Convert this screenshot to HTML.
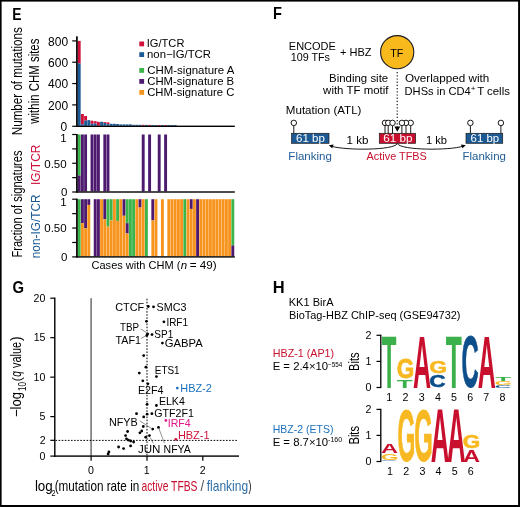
<!DOCTYPE html>
<html><head><meta charset="utf-8"><style>
html,body{margin:0;padding:0;background:#fff;}
svg{display:block;will-change:transform;font-family:"Liberation Sans", sans-serif;}
</style></head><body>
<svg width="520" height="507" viewBox="0 0 520 507">
<rect x="0" y="0" width="520" height="507" fill="#fff"/>
<rect x="0.00" y="0.00" width="520.00" height="1.60" fill="#000"/>
<rect x="0.00" y="0.00" width="1.60" height="507.00" fill="#000"/>
<rect x="518.10" y="0.00" width="1.90" height="507.00" fill="#000"/>
<rect x="0.00" y="505.00" width="520.00" height="2.00" fill="#000"/>
<text x="12.37" y="19.75" font-size="15.7" fill="#000" font-weight="bold" textLength="9.27" lengthAdjust="spacingAndGlyphs">E</text>
<text x="-135.26" y="21.60" transform="rotate(-90)" font-size="14.6" fill="#000" textLength="108.08" lengthAdjust="spacingAndGlyphs">Number of mutations</text>
<text x="-123.68" y="39.00" transform="rotate(-90)" font-size="14.6" fill="#000" textLength="85.10" lengthAdjust="spacingAndGlyphs">within CHM sites</text>
<text x="-257.61" y="21.60" transform="rotate(-90)" font-size="14.6" fill="#000" textLength="107.22" lengthAdjust="spacingAndGlyphs">Fraction of signatures</text>
<text x="-185.00" y="40.00" transform="rotate(-90)" font-size="12.6" fill="#d0103a" textLength="40.35" lengthAdjust="spacingAndGlyphs">IG/TCR</text>
<text x="-258.29" y="40.20" transform="rotate(-90)" font-size="12.6" fill="#1a5a96" textLength="63.94" lengthAdjust="spacingAndGlyphs">non-IG/TCR</text>
<rect x="77.75" y="40.90" width="2.90" height="22.50" fill="#d0103a"/>
<rect x="77.75" y="63.40" width="2.90" height="62.40" fill="#1a5a96"/>
<rect x="80.95" y="114.00" width="2.90" height="10.30" fill="#d0103a"/>
<rect x="80.95" y="124.30" width="2.90" height="1.50" fill="#1a5a96"/>
<rect x="84.15" y="116.00" width="2.90" height="4.70" fill="#d0103a"/>
<rect x="84.15" y="120.70" width="2.90" height="5.10" fill="#1a5a96"/>
<rect x="87.35" y="120.10" width="2.90" height="5.70" fill="#1a5a96"/>
<rect x="90.55" y="120.70" width="2.90" height="3.10" fill="#d0103a"/>
<rect x="90.55" y="123.80" width="2.90" height="2.00" fill="#1a5a96"/>
<rect x="93.75" y="121.20" width="2.90" height="2.30" fill="#d0103a"/>
<rect x="93.75" y="123.50" width="2.90" height="2.30" fill="#1a5a96"/>
<rect x="96.95" y="121.80" width="2.90" height="4.00" fill="#d0103a"/>
<rect x="100.15" y="121.80" width="2.90" height="4.00" fill="#1a5a96"/>
<rect x="103.35" y="122.10" width="2.90" height="0.90" fill="#d0103a"/>
<rect x="103.35" y="123.00" width="2.90" height="2.80" fill="#1a5a96"/>
<rect x="106.55" y="122.40" width="2.90" height="1.70" fill="#d0103a"/>
<rect x="106.55" y="124.10" width="2.90" height="1.70" fill="#1a5a96"/>
<rect x="109.75" y="123.80" width="2.90" height="2.00" fill="#1a5a96"/>
<rect x="112.95" y="123.80" width="2.90" height="2.00" fill="#1a5a96"/>
<rect x="116.15" y="124.00" width="2.90" height="1.80" fill="#1a5a96"/>
<rect x="119.35" y="124.40" width="2.90" height="1.40" fill="#1a5a96"/>
<rect x="122.55" y="124.40" width="2.90" height="1.40" fill="#1a5a96"/>
<rect x="125.75" y="124.40" width="2.90" height="1.40" fill="#1a5a96"/>
<rect x="128.95" y="124.40" width="2.90" height="1.40" fill="#1a5a96"/>
<rect x="132.15" y="124.80" width="2.90" height="1.00" fill="#1a5a96"/>
<rect x="135.35" y="124.80" width="2.90" height="1.00" fill="#1a5a96"/>
<rect x="138.55" y="124.80" width="2.90" height="1.00" fill="#1a5a96"/>
<rect x="141.75" y="124.80" width="2.90" height="1.00" fill="#d0103a"/>
<rect x="144.95" y="124.90" width="2.90" height="0.90" fill="#1a5a96"/>
<rect x="148.15" y="124.90" width="2.90" height="0.90" fill="#d0103a"/>
<rect x="151.35" y="125.00" width="2.90" height="0.80" fill="#1a5a96"/>
<rect x="154.55" y="125.00" width="2.90" height="0.80" fill="#1a5a96"/>
<rect x="157.75" y="125.00" width="2.90" height="0.80" fill="#d0103a"/>
<rect x="160.95" y="125.00" width="2.90" height="0.80" fill="#1a5a96"/>
<rect x="164.15" y="125.00" width="2.90" height="0.80" fill="#d0103a"/>
<rect x="167.35" y="125.00" width="2.90" height="0.80" fill="#1a5a96"/>
<rect x="170.55" y="125.00" width="2.90" height="0.80" fill="#1a5a96"/>
<rect x="173.75" y="125.00" width="2.90" height="0.80" fill="#1a5a96"/>
<rect x="77.75" y="134.50" width="2.90" height="40.97" fill="#3bb54a"/>
<rect x="77.75" y="175.47" width="2.90" height="15.93" fill="#4d1a6f"/>
<rect x="80.95" y="134.50" width="2.90" height="56.90" fill="#4d1a6f"/>
<rect x="84.15" y="134.50" width="2.90" height="56.90" fill="#4d1a6f"/>
<rect x="90.55" y="134.50" width="2.90" height="56.90" fill="#4d1a6f"/>
<rect x="93.75" y="134.50" width="2.90" height="56.90" fill="#4d1a6f"/>
<rect x="96.95" y="134.50" width="2.90" height="56.90" fill="#4d1a6f"/>
<rect x="103.35" y="134.50" width="2.90" height="56.90" fill="#4d1a6f"/>
<rect x="106.55" y="134.50" width="2.90" height="56.90" fill="#4d1a6f"/>
<rect x="141.75" y="134.50" width="2.90" height="56.90" fill="#4d1a6f"/>
<rect x="148.15" y="134.50" width="2.90" height="56.90" fill="#4d1a6f"/>
<rect x="157.75" y="134.50" width="2.90" height="56.90" fill="#4d1a6f"/>
<rect x="164.15" y="134.50" width="2.90" height="56.90" fill="#4d1a6f"/>
<rect x="77.75" y="199.20" width="2.90" height="57.11" fill="#3bb54a"/>
<rect x="80.95" y="199.20" width="2.90" height="23.99" fill="#4d1a6f"/>
<rect x="80.95" y="223.18" width="2.90" height="33.13" fill="#f7941d"/>
<rect x="84.15" y="199.20" width="2.90" height="29.13" fill="#4d1a6f"/>
<rect x="84.15" y="228.32" width="2.90" height="27.99" fill="#f7941d"/>
<rect x="87.35" y="199.20" width="2.90" height="5.72" fill="#4d1a6f"/>
<rect x="87.35" y="204.91" width="2.90" height="51.40" fill="#f7941d"/>
<rect x="93.75" y="199.20" width="2.90" height="57.11" fill="#4d1a6f"/>
<rect x="96.95" y="199.20" width="2.90" height="57.11" fill="#4d1a6f"/>
<rect x="100.15" y="199.20" width="2.90" height="57.11" fill="#f7941d"/>
<rect x="103.35" y="199.20" width="2.90" height="20.00" fill="#4d1a6f"/>
<rect x="103.35" y="219.19" width="2.90" height="37.13" fill="#f7941d"/>
<rect x="106.55" y="199.20" width="2.90" height="27.42" fill="#3bb54a"/>
<rect x="106.55" y="226.61" width="2.90" height="29.70" fill="#f7941d"/>
<rect x="109.75" y="199.20" width="2.90" height="21.14" fill="#3bb54a"/>
<rect x="109.75" y="220.33" width="2.90" height="35.98" fill="#f7941d"/>
<rect x="112.95" y="199.20" width="2.90" height="57.11" fill="#f7941d"/>
<rect x="116.15" y="199.20" width="2.90" height="21.71" fill="#3bb54a"/>
<rect x="116.15" y="220.90" width="2.90" height="35.41" fill="#f7941d"/>
<rect x="119.35" y="199.20" width="2.90" height="57.11" fill="#f7941d"/>
<rect x="122.55" y="199.20" width="2.90" height="16.57" fill="#4d1a6f"/>
<rect x="122.55" y="215.76" width="2.90" height="40.55" fill="#f7941d"/>
<rect x="125.75" y="199.20" width="2.90" height="23.99" fill="#3bb54a"/>
<rect x="125.75" y="223.18" width="2.90" height="10.29" fill="#4d1a6f"/>
<rect x="125.75" y="233.46" width="2.90" height="22.85" fill="#f7941d"/>
<rect x="128.95" y="199.20" width="2.90" height="57.11" fill="#3bb54a"/>
<rect x="132.15" y="199.20" width="2.90" height="57.11" fill="#3bb54a"/>
<rect x="135.35" y="199.20" width="2.90" height="57.11" fill="#f7941d"/>
<rect x="138.55" y="199.20" width="2.90" height="8.29" fill="#4d1a6f"/>
<rect x="138.55" y="207.48" width="2.90" height="48.83" fill="#f7941d"/>
<rect x="141.75" y="199.20" width="2.90" height="57.11" fill="#f7941d"/>
<rect x="144.95" y="199.20" width="2.90" height="57.11" fill="#3bb54a"/>
<rect x="151.35" y="199.20" width="2.90" height="21.14" fill="#4d1a6f"/>
<rect x="151.35" y="220.33" width="2.90" height="35.98" fill="#f7941d"/>
<rect x="154.55" y="199.20" width="2.90" height="57.11" fill="#f7941d"/>
<rect x="160.95" y="199.20" width="2.90" height="57.11" fill="#f7941d"/>
<rect x="183.35" y="199.20" width="2.90" height="57.11" fill="#3bb54a"/>
<rect x="189.75" y="199.20" width="2.90" height="9.72" fill="#4d1a6f"/>
<rect x="189.75" y="208.91" width="2.90" height="47.40" fill="#f7941d"/>
<rect x="196.15" y="199.20" width="2.90" height="57.11" fill="#4d1a6f"/>
<rect x="231.35" y="199.20" width="2.90" height="46.26" fill="#3bb54a"/>
<rect x="231.35" y="245.45" width="2.90" height="10.86" fill="#4d1a6f"/>
<rect x="167.35" y="199.20" width="2.90" height="57.11" fill="#f7941d"/>
<rect x="170.55" y="199.20" width="2.90" height="57.11" fill="#f7941d"/>
<rect x="173.75" y="199.20" width="2.90" height="57.11" fill="#f7941d"/>
<rect x="176.95" y="199.20" width="2.90" height="57.11" fill="#f7941d"/>
<rect x="180.15" y="199.20" width="2.90" height="57.11" fill="#f7941d"/>
<rect x="186.55" y="199.20" width="2.90" height="57.11" fill="#f7941d"/>
<rect x="192.95" y="199.20" width="2.90" height="57.11" fill="#f7941d"/>
<rect x="199.35" y="199.20" width="2.90" height="57.11" fill="#f7941d"/>
<rect x="202.55" y="199.20" width="2.90" height="57.11" fill="#f7941d"/>
<rect x="205.75" y="199.20" width="2.90" height="57.11" fill="#f7941d"/>
<rect x="208.95" y="199.20" width="2.90" height="57.11" fill="#f7941d"/>
<rect x="212.15" y="199.20" width="2.90" height="57.11" fill="#f7941d"/>
<rect x="215.35" y="199.20" width="2.90" height="57.11" fill="#f7941d"/>
<rect x="218.55" y="199.20" width="2.90" height="57.11" fill="#f7941d"/>
<rect x="221.75" y="199.20" width="2.90" height="57.11" fill="#f7941d"/>
<rect x="224.95" y="199.20" width="2.90" height="57.11" fill="#f7941d"/>
<rect x="228.15" y="199.20" width="2.90" height="57.11" fill="#f7941d"/>
<rect x="76.07" y="36.30" width="1.70" height="90.60" fill="#000"/>
<rect x="76.20" y="125.60" width="158.60" height="1.40" fill="#000"/>
<rect x="72.20" y="40.30" width="4.30" height="1.20" fill="#000"/>
<rect x="72.20" y="61.60" width="4.30" height="1.20" fill="#000"/>
<rect x="72.20" y="82.95" width="4.30" height="1.20" fill="#000"/>
<rect x="72.20" y="104.30" width="4.30" height="1.20" fill="#000"/>
<rect x="72.20" y="125.70" width="4.30" height="1.20" fill="#000"/>
<rect x="76.07" y="134.00" width="1.70" height="58.70" fill="#000"/>
<rect x="76.20" y="191.30" width="158.60" height="1.40" fill="#000"/>
<rect x="72.20" y="133.90" width="4.30" height="1.20" fill="#000"/>
<rect x="72.20" y="148.28" width="4.30" height="1.20" fill="#000"/>
<rect x="72.20" y="162.65" width="4.30" height="1.20" fill="#000"/>
<rect x="72.20" y="177.03" width="4.30" height="1.20" fill="#000"/>
<rect x="72.20" y="191.40" width="4.30" height="1.20" fill="#000"/>
<rect x="76.07" y="198.60" width="1.70" height="59.00" fill="#000"/>
<rect x="76.20" y="256.20" width="158.60" height="1.40" fill="#000"/>
<rect x="72.20" y="198.60" width="4.30" height="1.20" fill="#000"/>
<rect x="72.20" y="213.03" width="4.30" height="1.20" fill="#000"/>
<rect x="72.20" y="227.45" width="4.30" height="1.20" fill="#000"/>
<rect x="72.20" y="241.88" width="4.30" height="1.20" fill="#000"/>
<rect x="72.20" y="256.30" width="4.30" height="1.20" fill="#000"/>
<text x="48.05" y="45.60" font-size="12" fill="#000" textLength="20.02" lengthAdjust="spacingAndGlyphs">800</text>
<text x="48.05" y="66.90" font-size="12" fill="#000" textLength="20.02" lengthAdjust="spacingAndGlyphs">600</text>
<text x="48.05" y="88.25" font-size="12" fill="#000" textLength="20.02" lengthAdjust="spacingAndGlyphs">400</text>
<text x="48.05" y="109.60" font-size="12" fill="#000" textLength="20.02" lengthAdjust="spacingAndGlyphs">200</text>
<text x="60.39" y="130.70" font-size="12" fill="#000" textLength="6.67" lengthAdjust="spacingAndGlyphs">0</text>
<text x="60.27" y="141.90" font-size="11.5" fill="#000" textLength="6.40" lengthAdjust="spacingAndGlyphs">1</text>
<text x="44.27" y="167.50" font-size="11.5" fill="#000" textLength="22.38" lengthAdjust="spacingAndGlyphs">0.50</text>
<text x="61.05" y="196.20" font-size="11.5" fill="#000" textLength="6.40" lengthAdjust="spacingAndGlyphs">0</text>
<text x="60.27" y="206.20" font-size="11.5" fill="#000" textLength="6.40" lengthAdjust="spacingAndGlyphs">1</text>
<text x="44.27" y="232.20" font-size="11.5" fill="#000" textLength="22.38" lengthAdjust="spacingAndGlyphs">0.50</text>
<text x="61.05" y="261.10" font-size="11.5" fill="#000" textLength="6.40" lengthAdjust="spacingAndGlyphs">0</text>
<rect x="139.30" y="41.50" width="4.80" height="4.80" fill="#d0103a"/>
<text x="146.77" y="47.00" font-size="10.4" fill="#000" textLength="37.64" lengthAdjust="spacingAndGlyphs">IG/TCR</text>
<rect x="139.30" y="52.20" width="4.80" height="4.80" fill="#1a5a96"/>
<text x="147.05" y="57.70" font-size="10.4" fill="#000" textLength="63.88" lengthAdjust="spacingAndGlyphs">non−IG/TCR</text>
<rect x="139.30" y="68.00" width="4.80" height="4.80" fill="#3bb54a"/>
<text x="147.22" y="73.50" font-size="10.4" fill="#000" textLength="87.20" lengthAdjust="spacingAndGlyphs">CHM-signature A</text>
<rect x="139.30" y="79.00" width="4.80" height="4.80" fill="#4d1a6f"/>
<text x="147.22" y="84.50" font-size="10.4" fill="#000" textLength="86.97" lengthAdjust="spacingAndGlyphs">CHM-signature B</text>
<rect x="139.30" y="90.00" width="4.80" height="4.80" fill="#f7941d"/>
<text x="147.23" y="95.50" font-size="10.4" fill="#000" textLength="87.20" lengthAdjust="spacingAndGlyphs">CHM-signature C</text>
<text x="91.54" y="268.90" font-size="11.3" fill="#000" textLength="88.82" lengthAdjust="spacingAndGlyphs">Cases with CHM (</text>
<text x="180.71" y="268.90" font-size="11.3" fill="#000" font-style="italic" textLength="6.42" lengthAdjust="spacingAndGlyphs">n</text>
<text x="189.83" y="268.90" font-size="11.3" fill="#000" textLength="26.89" lengthAdjust="spacingAndGlyphs">= 49)</text>
<text x="272.92" y="19.05" font-size="15.7" fill="#000" font-weight="bold" textLength="8.91" lengthAdjust="spacingAndGlyphs">F</text>
<text x="288.80" y="49.90" font-size="10.8" fill="#000" textLength="47.08" lengthAdjust="spacingAndGlyphs">ENCODE</text>
<text x="290.68" y="61.00" font-size="10.8" fill="#000" textLength="39.30" lengthAdjust="spacingAndGlyphs">109 TFs</text>
<text x="339.96" y="55.70" font-size="10.8" fill="#000" textLength="31.58" lengthAdjust="spacingAndGlyphs">+ HBZ</text>
<circle cx="397.2" cy="52.2" r="16.6" fill="#f7b91b" stroke="#1c1c26" stroke-width="1.1"/>
<text x="390.26" y="57.40" font-size="10.6" fill="#000" textLength="13.17" lengthAdjust="spacingAndGlyphs">TF</text>
<line x1="397.2" y1="72" x2="397.2" y2="127" stroke="#000" stroke-width="1.1" stroke-dasharray="1.2 2"/>
<text x="329.06" y="82.00" font-size="11.2" fill="#000" textLength="59.15" lengthAdjust="spacingAndGlyphs">Binding site</text>
<text x="323.12" y="94.40" font-size="11.2" fill="#000" textLength="65.37" lengthAdjust="spacingAndGlyphs">with TF motif</text>
<text x="404.95" y="82.20" font-size="11.2" fill="#000" textLength="84.31" lengthAdjust="spacingAndGlyphs">Overlapped with</text>
<text x="404.59" y="94.90" font-size="11.2" fill="#000" textLength="66.14" lengthAdjust="spacingAndGlyphs">DHSs in CD4</text>
<text x="470.80" y="90.60" font-size="6.5" fill="#000" textLength="4.81" lengthAdjust="spacingAndGlyphs">+</text>
<text x="477.15" y="94.90" font-size="11.2" fill="#000" textLength="32.76" lengthAdjust="spacingAndGlyphs">T cells</text>
<text x="285.86" y="114.10" font-size="11.1" fill="#000" textLength="75.55" lengthAdjust="spacingAndGlyphs">Mutation (ATL)</text>
<rect x="291.60" y="133.3" width="37.40" height="10.0" fill="#1d5a94" stroke="#1a1a1a" stroke-width="0.7"/>
<rect x="379.30" y="133.3" width="36.30" height="10.0" fill="#c8102e" stroke="#1a1a1a" stroke-width="0.7"/>
<rect x="466.00" y="133.3" width="36.70" height="10.0" fill="#1d5a94" stroke="#1a1a1a" stroke-width="0.7"/>
<text x="296.12" y="141.50" font-size="10.2" fill="#fff" textLength="28.77" lengthAdjust="spacingAndGlyphs">61 bp</text>
<text x="383.31" y="141.50" font-size="10.2" fill="#fff" textLength="29.18" lengthAdjust="spacingAndGlyphs">61 bp</text>
<text x="470.62" y="141.50" font-size="10.2" fill="#fff" textLength="28.45" lengthAdjust="spacingAndGlyphs">61 bp</text>
<line x1="293.80" y1="125.65" x2="293.80" y2="133.30" stroke="#000" stroke-width="0.9"/>
<circle cx="293.80" cy="122.90" r="2.75" fill="#fff" stroke="#000" stroke-width="0.9"/>
<line x1="470.40" y1="125.65" x2="470.40" y2="133.30" stroke="#000" stroke-width="0.9"/>
<circle cx="470.40" cy="122.90" r="2.75" fill="#fff" stroke="#000" stroke-width="0.9"/>
<line x1="500.90" y1="125.65" x2="500.90" y2="133.30" stroke="#000" stroke-width="0.9"/>
<circle cx="500.90" cy="122.90" r="2.75" fill="#fff" stroke="#000" stroke-width="0.9"/>
<line x1="385.00" y1="125.65" x2="385.00" y2="133.30" stroke="#000" stroke-width="0.9"/>
<circle cx="385.00" cy="122.90" r="2.75" fill="#fff" stroke="#000" stroke-width="0.9"/>
<line x1="388.20" y1="125.65" x2="388.20" y2="133.30" stroke="#000" stroke-width="0.9"/>
<circle cx="388.20" cy="122.90" r="2.75" fill="#fff" stroke="#000" stroke-width="0.9"/>
<line x1="392.50" y1="125.65" x2="392.50" y2="133.30" stroke="#000" stroke-width="0.9"/>
<circle cx="392.50" cy="122.90" r="2.75" fill="#fff" stroke="#000" stroke-width="0.9"/>
<line x1="410.70" y1="125.65" x2="410.70" y2="133.30" stroke="#000" stroke-width="0.9"/>
<circle cx="410.70" cy="122.90" r="2.75" fill="#fff" stroke="#000" stroke-width="0.9"/>
<line x1="406.00" y1="125.65" x2="406.00" y2="133.30" stroke="#000" stroke-width="0.9"/>
<circle cx="406.00" cy="122.90" r="2.75" fill="#fff" stroke="#000" stroke-width="0.9"/>
<line x1="401.90" y1="125.65" x2="401.90" y2="133.30" stroke="#000" stroke-width="0.9"/>
<circle cx="401.90" cy="122.90" r="2.75" fill="#fff" stroke="#000" stroke-width="0.9"/>
<path d="M394.4,126.6 L400.2,126.6 L397.3,131.8 Z" fill="#000"/>
<path d="M397.3,143.6 C394,150.5 345,150.5 331.5,146.2" fill="none" stroke="#000" stroke-width="0.9"/>
<path d="M328.8,145.2 L333.6,144.6 L332.2,148.3 Z" fill="#000"/>
<path d="M397.3,143.6 C401,150.5 450,150.5 463,146.2" fill="none" stroke="#000" stroke-width="0.9"/>
<path d="M465.8,145.2 L461.0,144.6 L462.4,148.3 Z" fill="#000"/>
<text x="346.62" y="143.50" font-size="11.4" fill="#000" textLength="21.87" lengthAdjust="spacingAndGlyphs">1 kb</text>
<text x="425.95" y="143.50" font-size="11.4" fill="#000" textLength="21.12" lengthAdjust="spacingAndGlyphs">1 kb</text>
<text x="288.36" y="160.30" font-size="11.0" fill="#1d5a94" textLength="43.49" lengthAdjust="spacingAndGlyphs">Flanking</text>
<text x="366.58" y="160.30" font-size="11.0" fill="#c8102e" textLength="60.22" lengthAdjust="spacingAndGlyphs">Active TFBS</text>
<text x="462.56" y="160.30" font-size="11.0" fill="#1d5a94" textLength="43.38" lengthAdjust="spacingAndGlyphs">Flanking</text>
<text x="12.39" y="292.70" font-size="15.7" fill="#000" font-weight="bold" textLength="11.53" lengthAdjust="spacingAndGlyphs">G</text>
<rect x="90.35" y="298.20" width="1.50" height="157.90" fill="#6e6e6e"/>
<line x1="147.0" y1="298.7" x2="147.0" y2="456" stroke="#000" stroke-width="1.0" stroke-dasharray="1.6 1.5"/>
<line x1="55.5" y1="440.4" x2="238.2" y2="440.4" stroke="#000" stroke-width="1.0" stroke-dasharray="1.6 1.5"/>
<rect x="54.10" y="297.60" width="1.40" height="159.20" fill="#000"/>
<rect x="54.10" y="455.40" width="184.90" height="1.40" fill="#000"/>
<rect x="50.30" y="297.60" width="4.50" height="1.20" fill="#000"/>
<text x="33.62" y="301.90" font-size="10.6" fill="#000" textLength="11.79" lengthAdjust="spacingAndGlyphs">20</text>
<rect x="50.30" y="337.07" width="4.50" height="1.20" fill="#000"/>
<text x="33.65" y="341.38" font-size="10.6" fill="#000" textLength="11.79" lengthAdjust="spacingAndGlyphs">15</text>
<rect x="50.30" y="376.55" width="4.50" height="1.20" fill="#000"/>
<text x="33.62" y="380.85" font-size="10.6" fill="#000" textLength="11.79" lengthAdjust="spacingAndGlyphs">10</text>
<rect x="50.30" y="416.02" width="4.50" height="1.20" fill="#000"/>
<text x="39.55" y="420.32" font-size="10.6" fill="#000" textLength="5.90" lengthAdjust="spacingAndGlyphs">5</text>
<rect x="50.30" y="439.71" width="4.50" height="1.20" fill="#000"/>
<text x="39.64" y="444.01" font-size="10.6" fill="#000" textLength="5.90" lengthAdjust="spacingAndGlyphs">2</text>
<rect x="50.30" y="455.50" width="4.50" height="1.20" fill="#000"/>
<text x="39.52" y="459.80" font-size="10.6" fill="#000" textLength="5.90" lengthAdjust="spacingAndGlyphs">0</text>
<rect x="90.50" y="456.10" width="1.20" height="4.60" fill="#000"/>
<text x="87.95" y="473.60" font-size="10.6" fill="#000" textLength="5.90" lengthAdjust="spacingAndGlyphs">0</text>
<rect x="146.40" y="456.10" width="1.20" height="4.60" fill="#000"/>
<text x="143.71" y="473.60" font-size="10.6" fill="#000" textLength="5.90" lengthAdjust="spacingAndGlyphs">1</text>
<rect x="202.20" y="456.10" width="1.20" height="4.60" fill="#000"/>
<text x="199.65" y="473.60" font-size="10.6" fill="#000" textLength="5.90" lengthAdjust="spacingAndGlyphs">2</text>
<text x="-417.04" y="21.20" transform="rotate(-90)" font-size="14.0" fill="#000" textLength="24.98" lengthAdjust="spacingAndGlyphs">−log</text>
<text x="-391.01" y="26.40" transform="rotate(-90)" font-size="10.3" fill="#000" textLength="8.92" lengthAdjust="spacingAndGlyphs">10</text>
<text x="-381.35" y="21.20" transform="rotate(-90)" font-size="13.6" fill="#000" textLength="4.02" lengthAdjust="spacingAndGlyphs">(</text>
<text x="-376.74" y="21.20" transform="rotate(-90)" font-size="14.0" fill="#000" font-style="italic" textLength="5.61" lengthAdjust="spacingAndGlyphs">q</text>
<text x="-368.04" y="21.20" transform="rotate(-90)" font-size="14.0" fill="#000" textLength="26.12" lengthAdjust="spacingAndGlyphs">value</text>
<text x="-340.98" y="21.20" transform="rotate(-90)" font-size="14.0" fill="#000" textLength="4.65" lengthAdjust="spacingAndGlyphs">)</text>
<text x="34.90" y="491.30" font-size="14.2" fill="#000" textLength="17.86" lengthAdjust="spacingAndGlyphs">log</text>
<text x="51.54" y="495.90" font-size="9.0" fill="#000" textLength="4.03" lengthAdjust="spacingAndGlyphs">2</text>
<text x="54.67" y="491.30" font-size="14.2" fill="#000" textLength="84.59" lengthAdjust="spacingAndGlyphs">(mutation rate in</text>
<text x="141.46" y="491.30" font-size="14.2" fill="#c8102e" textLength="56.01" lengthAdjust="spacingAndGlyphs">active TFBS</text>
<text x="200.50" y="491.30" font-size="14.2" fill="#555" textLength="3.70" lengthAdjust="spacingAndGlyphs">/</text>
<text x="206.73" y="491.30" font-size="14.2" fill="#2f6ea8" textLength="41.34" lengthAdjust="spacingAndGlyphs">flanking</text>
<text x="248.45" y="491.30" font-size="14.2" fill="#000" textLength="2.89" lengthAdjust="spacingAndGlyphs">)</text>
<circle cx="148.3" cy="306.5" r="1.4" fill="#000"/>
<circle cx="153.5" cy="306.8" r="1.4" fill="#000"/>
<circle cx="146.4" cy="321.3" r="1.4" fill="#000"/>
<circle cx="163.9" cy="321.8" r="1.4" fill="#000"/>
<circle cx="147.6" cy="334.0" r="1.4" fill="#000"/>
<circle cx="146.8" cy="335.4" r="1.4" fill="#000"/>
<circle cx="152.0" cy="334.6" r="1.4" fill="#000"/>
<circle cx="162.4" cy="343.1" r="1.4" fill="#000"/>
<circle cx="143.7" cy="355.6" r="1.4" fill="#000"/>
<circle cx="145.9" cy="367.2" r="1.4" fill="#000"/>
<circle cx="139.3" cy="373.1" r="1.4" fill="#000"/>
<circle cx="156.4" cy="376.6" r="1.4" fill="#000"/>
<circle cx="142.8" cy="380.8" r="1.4" fill="#000"/>
<circle cx="147.9" cy="383.8" r="1.4" fill="#000"/>
<circle cx="147.1" cy="404.3" r="1.4" fill="#000"/>
<circle cx="156.4" cy="405.5" r="1.4" fill="#000"/>
<circle cx="136.5" cy="413.7" r="1.4" fill="#000"/>
<circle cx="147.1" cy="414.2" r="1.4" fill="#000"/>
<circle cx="151.9" cy="413.7" r="1.4" fill="#000"/>
<circle cx="143.7" cy="416.9" r="1.4" fill="#000"/>
<circle cx="143.3" cy="426.5" r="1.4" fill="#000"/>
<circle cx="152.7" cy="429.1" r="1.4" fill="#000"/>
<circle cx="158.5" cy="427.4" r="1.4" fill="#000"/>
<circle cx="141.7" cy="431.0" r="1.4" fill="#000"/>
<circle cx="139.9" cy="432.8" r="1.4" fill="#000"/>
<circle cx="127.6" cy="431.5" r="1.4" fill="#000"/>
<circle cx="125.6" cy="435.6" r="1.4" fill="#000"/>
<circle cx="126.5" cy="438.8" r="1.4" fill="#000"/>
<circle cx="128.5" cy="440.2" r="1.4" fill="#000"/>
<circle cx="130.7" cy="441.0" r="1.4" fill="#000"/>
<circle cx="133.6" cy="442.0" r="1.4" fill="#000"/>
<circle cx="145.7" cy="437.2" r="1.4" fill="#000"/>
<circle cx="149.4" cy="435.6" r="1.4" fill="#000"/>
<circle cx="130.6" cy="445.9" r="1.4" fill="#000"/>
<circle cx="118.6" cy="447.0" r="1.4" fill="#000"/>
<circle cx="123.6" cy="448.6" r="1.4" fill="#000"/>
<circle cx="108.9" cy="452.0" r="1.4" fill="#000"/>
<circle cx="108.1" cy="454.0" r="1.4" fill="#000"/>
<circle cx="177.3" cy="388.1" r="1.4" fill="#1b70bd"/>
<circle cx="165.9" cy="420.4" r="1.4" fill="#e5168a"/>
<circle cx="175.9" cy="439.3" r="1.4" fill="#d0103a"/>
<line x1="140.70" y1="329.00" x2="146.40" y2="332.50" stroke="#444" stroke-width="0.6"/>
<line x1="141.20" y1="338.40" x2="146.40" y2="335.40" stroke="#444" stroke-width="0.6"/>
<line x1="139.80" y1="420.80" x2="151.30" y2="428.30" stroke="#444" stroke-width="0.6"/>
<line x1="158.70" y1="428.00" x2="164.40" y2="443.00" stroke="#444" stroke-width="0.6"/>
<line x1="150.20" y1="437.50" x2="153.30" y2="443.30" stroke="#444" stroke-width="0.6"/>
<text x="115.25" y="310.80" font-size="10.4" fill="#000" textLength="28.99" lengthAdjust="spacingAndGlyphs">CTCF</text>
<text x="156.61" y="310.80" font-size="10.4" fill="#000" textLength="29.86" lengthAdjust="spacingAndGlyphs">SMC3</text>
<text x="166.38" y="325.60" font-size="10.4" fill="#000" textLength="21.61" lengthAdjust="spacingAndGlyphs">IRF1</text>
<text x="119.98" y="331.30" font-size="10.4" fill="#000" textLength="19.04" lengthAdjust="spacingAndGlyphs">TBP</text>
<text x="115.57" y="343.80" font-size="10.4" fill="#000" textLength="25.34" lengthAdjust="spacingAndGlyphs">TAF1</text>
<text x="154.35" y="338.00" font-size="10.4" fill="#000" textLength="18.84" lengthAdjust="spacingAndGlyphs">SP1</text>
<text x="164.75" y="347.30" font-size="10.4" fill="#000" textLength="37.98" lengthAdjust="spacingAndGlyphs">GABPA</text>
<text x="154.78" y="373.60" font-size="10.4" fill="#000" textLength="24.90" lengthAdjust="spacingAndGlyphs">ETS1</text>
<text x="137.92" y="394.30" font-size="10.4" fill="#000" textLength="25.70" lengthAdjust="spacingAndGlyphs">E2F4</text>
<text x="180.30" y="391.50" font-size="10.4" fill="#1b70bd" textLength="31.54" lengthAdjust="spacingAndGlyphs">HBZ-2</text>
<text x="158.93" y="405.00" font-size="10.4" fill="#000" textLength="25.88" lengthAdjust="spacingAndGlyphs">ELK4</text>
<text x="154.27" y="417.10" font-size="10.4" fill="#000" textLength="39.55" lengthAdjust="spacingAndGlyphs">GTF2F1</text>
<text x="167.72" y="426.90" font-size="10.4" fill="#e5168a" textLength="22.99" lengthAdjust="spacingAndGlyphs">IRF4</text>
<text x="108.91" y="425.60" font-size="10.4" fill="#000" textLength="28.86" lengthAdjust="spacingAndGlyphs">NFYB</text>
<text x="177.90" y="439.40" font-size="10.4" fill="#d0103a" textLength="31.63" lengthAdjust="spacingAndGlyphs">HBZ-1</text>
<text x="137.92" y="453.00" font-size="10.4" fill="#000" textLength="22.53" lengthAdjust="spacingAndGlyphs">JUN</text>
<text x="163.56" y="453.00" font-size="10.4" fill="#000" textLength="27.26" lengthAdjust="spacingAndGlyphs">NFYA</text>
<text x="272.70" y="292.90" font-size="15.7" fill="#000" font-weight="bold" textLength="11.92" lengthAdjust="spacingAndGlyphs">H</text>
<text x="288.69" y="306.10" font-size="11" fill="#000" textLength="44.83" lengthAdjust="spacingAndGlyphs">KK1 BirA</text>
<text x="288.91" y="319.20" font-size="11" fill="#000" textLength="171.57" lengthAdjust="spacingAndGlyphs">BioTag-HBZ ChIP-seq (GSE94732)</text>
<text x="272.72" y="356.70" font-size="10.6" fill="#c8102e" textLength="61.45" lengthAdjust="spacingAndGlyphs">HBZ-1 (AP1)</text>
<text x="272.67" y="369.70" font-size="10.6" fill="#000" textLength="55.47" lengthAdjust="spacingAndGlyphs">E = 2.4×10</text>
<text x="328.09" y="366.60" font-size="6.4" fill="#000" textLength="14.30" lengthAdjust="spacingAndGlyphs">−554</text>
<text x="272.74" y="433.20" font-size="10.6" fill="#1b70bd" textLength="60.71" lengthAdjust="spacingAndGlyphs">HBZ-2 (ETS)</text>
<text x="272.67" y="445.70" font-size="10.6" fill="#000" textLength="55.47" lengthAdjust="spacingAndGlyphs">E = 8.7×10</text>
<text x="328.09" y="442.00" font-size="6.4" fill="#000" textLength="14.09" lengthAdjust="spacingAndGlyphs">-160</text>
<text x="-370.91" y="359.20" transform="rotate(-90)" font-size="15" fill="#000" textLength="18.51" lengthAdjust="spacingAndGlyphs">Bits</text>
<text x="-444.62" y="359.00" transform="rotate(-90)" font-size="15" fill="#000" textLength="18.73" lengthAdjust="spacingAndGlyphs">Bits</text>
<rect x="380.15" y="334.70" width="1.30" height="53.40" fill="#000"/>
<rect x="376.50" y="334.70" width="4.30" height="1.20" fill="#000"/>
<text x="365.59" y="339.05" font-size="10.7" fill="#000" textLength="5.95" lengthAdjust="spacingAndGlyphs">2</text>
<rect x="376.50" y="360.80" width="4.30" height="1.20" fill="#000"/>
<text x="365.57" y="365.15" font-size="10.7" fill="#000" textLength="5.95" lengthAdjust="spacingAndGlyphs">1</text>
<rect x="376.50" y="386.90" width="4.30" height="1.20" fill="#000"/>
<text x="365.47" y="391.25" font-size="10.7" fill="#000" textLength="5.95" lengthAdjust="spacingAndGlyphs">0</text>
<rect x="380.15" y="408.80" width="1.30" height="53.30" fill="#000"/>
<rect x="376.50" y="408.80" width="4.30" height="1.20" fill="#000"/>
<text x="365.59" y="413.15" font-size="10.7" fill="#000" textLength="5.95" lengthAdjust="spacingAndGlyphs">2</text>
<rect x="376.50" y="434.80" width="4.30" height="1.20" fill="#000"/>
<text x="365.57" y="439.15" font-size="10.7" fill="#000" textLength="5.95" lengthAdjust="spacingAndGlyphs">1</text>
<rect x="376.50" y="460.90" width="4.30" height="1.20" fill="#000"/>
<text x="365.47" y="465.25" font-size="10.7" fill="#000" textLength="5.95" lengthAdjust="spacingAndGlyphs">0</text>
<text x="386.28" y="401.00" font-size="10.7" fill="#000" textLength="5.95" lengthAdjust="spacingAndGlyphs">1</text>
<text x="402.57" y="401.00" font-size="10.7" fill="#000" textLength="5.95" lengthAdjust="spacingAndGlyphs">2</text>
<text x="418.76" y="401.00" font-size="10.7" fill="#000" textLength="5.95" lengthAdjust="spacingAndGlyphs">3</text>
<text x="434.91" y="401.00" font-size="10.7" fill="#000" textLength="5.95" lengthAdjust="spacingAndGlyphs">4</text>
<text x="451.04" y="401.00" font-size="10.7" fill="#000" textLength="5.95" lengthAdjust="spacingAndGlyphs">5</text>
<text x="467.14" y="401.00" font-size="10.7" fill="#000" textLength="5.95" lengthAdjust="spacingAndGlyphs">6</text>
<text x="483.32" y="401.00" font-size="10.7" fill="#000" textLength="5.95" lengthAdjust="spacingAndGlyphs">7</text>
<text x="499.47" y="401.00" font-size="10.7" fill="#000" textLength="5.95" lengthAdjust="spacingAndGlyphs">8</text>
<text x="386.98" y="475.10" font-size="10.7" fill="#000" textLength="5.95" lengthAdjust="spacingAndGlyphs">1</text>
<text x="403.27" y="475.10" font-size="10.7" fill="#000" textLength="5.95" lengthAdjust="spacingAndGlyphs">2</text>
<text x="419.46" y="475.10" font-size="10.7" fill="#000" textLength="5.95" lengthAdjust="spacingAndGlyphs">3</text>
<text x="435.61" y="475.10" font-size="10.7" fill="#000" textLength="5.95" lengthAdjust="spacingAndGlyphs">4</text>
<text x="451.74" y="475.10" font-size="10.7" fill="#000" textLength="5.95" lengthAdjust="spacingAndGlyphs">5</text>
<text x="467.84" y="475.10" font-size="10.7" fill="#000" textLength="5.95" lengthAdjust="spacingAndGlyphs">6</text>
<text x="0" y="0" font-size="100" font-weight="bold" fill="#3cb04a" transform="matrix(0.2411 0 0 0.7413 381.73 387.50)">T</text>
<text x="0" y="0" font-size="100" font-weight="bold" fill="#f8b821" stroke="#f8b821" stroke-width="0.7" vector-effect="non-scaling-stroke" stroke-linejoin="round" transform="matrix(0.2253 0 0 0.2684 396.83 378.19)">G</text>
<text x="0" y="0" font-size="100" font-weight="bold" fill="#3cb04a" transform="matrix(0.2615 0 0 0.1163 396.81 387.50)">T</text>
<text x="0" y="0" font-size="100" font-weight="bold" fill="#c8102e" transform="matrix(0.2504 0 0 0.7413 413.08 387.50)">A</text>
<text x="0" y="0" font-size="100" font-weight="bold" fill="#f8b821" stroke="#f8b821" stroke-width="0.7" vector-effect="non-scaling-stroke" stroke-linejoin="round" transform="matrix(0.2253 0 0 0.1610 429.53 373.49)">G</text>
<text x="0" y="0" font-size="100" font-weight="bold" fill="#0d4f8b" stroke="#0d4f8b" stroke-width="0.7" vector-effect="non-scaling-stroke" stroke-linejoin="round" transform="matrix(0.2218 0 0 0.1610 429.54 386.89)">C</text>
<text x="0" y="0" font-size="100" font-weight="bold" fill="#3cb04a" transform="matrix(0.2632 0 0 0.7413 445.70 387.50)">T</text>
<text x="0" y="0" font-size="100" font-weight="bold" fill="#0d4f8b" stroke="#0d4f8b" stroke-width="0.7" vector-effect="non-scaling-stroke" stroke-linejoin="round" transform="matrix(0.2371 0 0 0.7217 461.58 386.75)">C</text>
<text x="0" y="0" font-size="100" font-weight="bold" fill="#c8102e" transform="matrix(0.2504 0 0 0.7413 477.78 387.50)">A</text>
<text x="0" y="0" font-size="100" font-weight="bold" fill="#3cb04a" transform="matrix(0.2598 0 0 0.0596 495.21 380.80)">T</text>
<text x="0" y="0" font-size="100" font-weight="bold" fill="#f8b821" transform="matrix(0.2267 0 0 0.0523 494.57 384.75)">G</text>
<text x="0" y="0" font-size="100" font-weight="bold" fill="#0d4f8b" transform="matrix(0.2340 0 0 0.0297 494.54 387.57)">C</text>
<text x="0" y="0" font-size="100" font-weight="bold" fill="#c8102e" transform="matrix(0.2370 0 0 0.1279 380.91 452.90)">A</text>
<text x="0" y="0" font-size="100" font-weight="bold" fill="#f8b821" transform="matrix(0.2253 0 0 0.0904 380.88 459.71)">G</text>
<text x="0" y="0" font-size="100" font-weight="bold" fill="#5a8fc4" transform="matrix(0.2325 0 0 0.0184 380.85 461.48)">C</text>
<text x="0" y="0" font-size="100" font-weight="bold" fill="#f8b821" stroke="#f8b821" stroke-width="0.7" vector-effect="non-scaling-stroke" stroke-linejoin="round" transform="matrix(0.2297 0 0 0.7232 397.61 460.54)">G</text>
<text x="0" y="0" font-size="100" font-weight="bold" fill="#f8b821" stroke="#f8b821" stroke-width="0.7" vector-effect="non-scaling-stroke" stroke-linejoin="round" transform="matrix(0.2386 0 0 0.7232 414.37 460.54)">G</text>
<text x="0" y="0" font-size="100" font-weight="bold" fill="#c8102e" transform="matrix(0.2564 0 0 0.7587 430.86 461.50)">A</text>
<text x="0" y="0" font-size="100" font-weight="bold" fill="#c8102e" transform="matrix(0.2564 0 0 0.7587 447.06 461.50)">A</text>
<text x="0" y="0" font-size="100" font-weight="bold" fill="#f8b821" stroke="#f8b821" stroke-width="0.7" vector-effect="non-scaling-stroke" stroke-linejoin="round" transform="matrix(0.2238 0 0 0.1751 462.63 448.48)">G</text>
<text x="0" y="0" font-size="100" font-weight="bold" fill="#c8102e" transform="matrix(0.2370 0 0 0.1730 462.91 461.60)">A</text>
</svg>
</body></html>
